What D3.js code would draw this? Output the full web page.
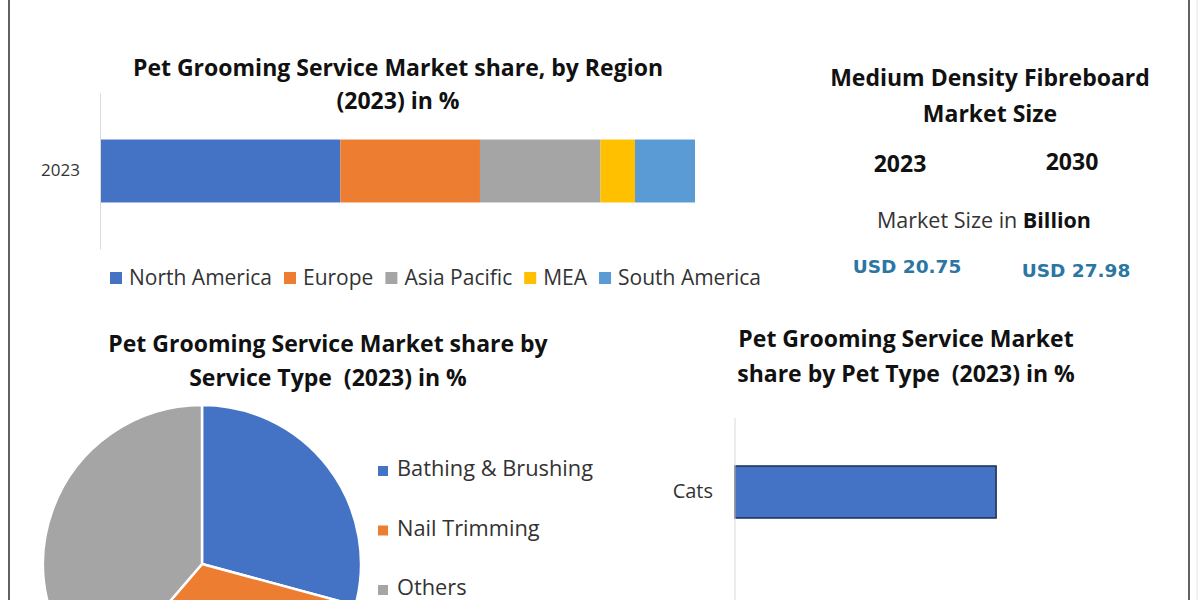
<!DOCTYPE html>
<html><head><meta charset="utf-8">
<script src="https://cdn.jsdelivr.net/npm/d3@7"></script>
<style>body{margin:0;background:#fff;} svg{display:block;font-family:"Open Sans",Lato,sans-serif;} text{white-space:pre;}</style>
</head><body><svg id="c" width="1200" height="600"></svg>
<script>
// ---- data ----
const regions = ["North America","Europe","Asia Pacific","MEA","South America"];
const regionShare = [40.3,23.5,20.3,5.8,10.1];
const regionColors = ["#4472c4","#ed7d31","#a5a5a5","#ffc000","#5b9bd5"];
const regionYears = ["2023"];
const serviceTypes = ["Bathing & Brushing","Nail Trimming","Others"];
const serviceShare = [29.2,32.1,38.7];
const serviceColors = ["#4472c4","#ed7d31","#a5a5a5"];
const petTypes = ["Cats"];
const petShare = [35];
const sizeYears = ["2023","2030"];
const sizeValues = [20.75,27.98];

const svg = d3.select("#c");
svg.append("rect").attr("width",1200).attr("height",600).attr("fill","#fff");
// frame lines
svg.append("line").attr("x1",9).attr("x2",9).attr("y1",0).attr("y2",600).attr("stroke","#3a3a3a").attr("stroke-width",1.6);
svg.append("line").attr("x1",1189).attr("x2",1189).attr("y1",0).attr("y2",600).attr("stroke","#3a3a3a").attr("stroke-width",1.6);
svg.append("line").attr("x1",1197).attr("x2",1197).attr("y1",0).attr("y2",600).attr("stroke","#e4e4e4").attr("stroke-width",1);

function title(lines, cx, ys, size){
  lines.forEach((t,i)=>svg.append("text").attr("x",cx).attr("y",ys[i]).attr("text-anchor","middle")
    .attr("font-weight","bold").attr("font-size",size).attr("fill","#111").text(t));
}

// ---- Chart 1: stacked bar by region ----
title(["Pet Grooming Service Market share, by Region","(2023) in %"],398,[76,109],23);
const x1 = d3.scaleLinear().domain([0,100]).range([101,695]);
const y1 = d3.scaleBand().domain(regionYears).range([93,249]).paddingInner(0.425).paddingOuter(0.425);
let acc = 0;
const stack1 = regionShare.map((v,i)=>{const s={x0:acc,x1:acc+v,c:regionColors[i]};acc+=v;return s;});
svg.append("g").selectAll("rect").data(stack1).join("rect")
  .attr("x",d=>x1(d.x0)).attr("width",d=>x1(d.x1)-x1(d.x0))
  .attr("y",y1("2023")).attr("height",y1.bandwidth()).attr("fill",d=>d.c);
const ax1 = svg.append("g").attr("transform","translate(100,0)")
  .call(d3.axisLeft(y1).tickSize(0).tickSizeOuter(0).tickPadding(20));
ax1.select(".domain").attr("stroke","#d9d9d9");
ax1.selectAll("text").attr("font-size",17).attr("font-family","Open Sans").attr("fill","#333");

// legend 1
const lg1 = svg.append("g");
let lx = 110;
regions.forEach((r,i)=>{
  lg1.append("rect").attr("x",lx).attr("y",272).attr("width",12).attr("height",12).attr("fill",regionColors[i]);
  const t = lg1.append("text").attr("x",lx+19).attr("y",285).attr("font-size",21).attr("fill","#333").text(r);
  lx += 19 + t.node().getComputedTextLength() + 12;
});

// ---- Market size panel ----
title(["Medium Density Fibreboard","Market Size"],990,[86,122],23);
const yrX = [900,1072];
sizeYears.forEach((y,i)=>svg.append("text").attr("x",yrX[i]).attr("y",[172,170][i]).attr("text-anchor","middle")
  .attr("font-weight","bold").attr("font-size",23).attr("fill","#111").text(y));
const ms = svg.append("text").attr("x",984).attr("y",228).attr("text-anchor","middle").attr("font-size",21.5).attr("fill","#333");
ms.append("tspan").text("Market Size in ");
ms.append("tspan").attr("font-weight","bold").attr("fill","#111").text("Billion");
sizeValues.forEach((v,i)=>svg.append("text").attr("x",[907,1076][i]).attr("y",[273,277][i]).attr("text-anchor","middle")
  .attr("font-family","DejaVu Sans").attr("font-weight","bold").attr("font-size",18.5).attr("letter-spacing",0)
  .attr("fill","#2b76a3").text("USD "+d3.format(".2f")(v)));

// ---- Chart 2: pie by service type ----
title(["Pet Grooming Service Market share by","Service Type  (2023) in %"],328,[352,386],23);
const pie = d3.pie().sort(null).value(d=>d)(serviceShare);
const arc = d3.arc().innerRadius(0).outerRadius(159);
svg.append("g").attr("transform","translate(202,564)").selectAll("path").data(pie).join("path")
  .attr("d",arc).attr("fill",(d,i)=>serviceColors[i]).attr("stroke","#fff").attr("stroke-width",2.5);
serviceTypes.forEach((s,i)=>{
  const yy = 476 + i*59.5;
  svg.append("rect").attr("x",378).attr("y",yy-10).attr("width",10).attr("height",10).attr("fill",serviceColors[i]);
  svg.append("text").attr("x",397).attr("y",yy).attr("font-size",21.8).attr("fill","#333").text(s);
});

// ---- Chart 3: bar by pet type ----
title(["Pet Grooming Service Market","share by Pet Type  (2023) in %"],906,[347,382],23);
const x3 = d3.scaleLinear().domain([0,100]).range([735,735+746]);
const y3 = d3.scaleBand().domain(petTypes).range([443.7,540.3]).paddingInner(0.3).paddingOuter(0.3);
svg.append("g").selectAll("rect").data(petShare).join("rect")
  .attr("x",x3(0)).attr("width",d=>x3(d)-x3(0)).attr("y",(d,i)=>y3(petTypes[i])).attr("height",y3.bandwidth())
  .attr("fill","#4472c4").attr("stroke","#1c2d52").attr("stroke-width",1.5);
const ax3 = svg.append("g").attr("transform","translate(735,0)")
  .call(d3.axisLeft(y3).tickSize(0).tickSizeOuter(0).tickPadding(22));
ax3.select(".domain").attr("d","M0,418V600").attr("stroke","#d9d9d9");
ax3.selectAll("text").attr("font-size",20).attr("font-family","Open Sans").attr("fill","#333");
</script></body></html>
